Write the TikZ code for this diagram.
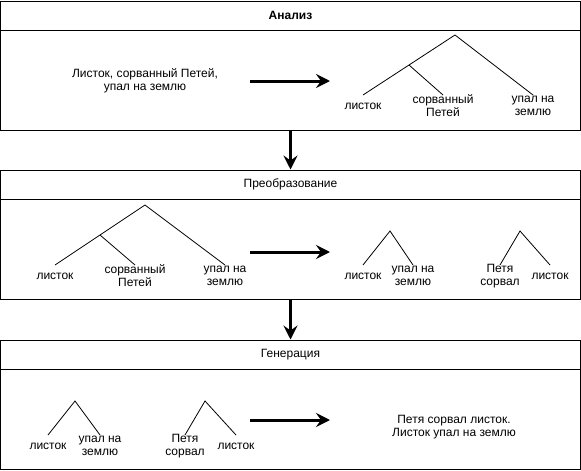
\documentclass[tikz,border=0pt]{standalone}
\usepackage{fontspec}
\setmainfont{Liberation Sans}
\usetikzlibrary{arrows.meta,calc}
\tikzset{
  stage/.style={draw, line width=1pt, minimum width=580pt, minimum height=129pt, inner sep=0pt},
  word/.style={align=center, font=\fontsize{12}{13}\selectfont, inner sep=0pt},
  bigarrow/.style={line width=3pt, -{Stealth[length=14pt,width=14pt,inset=5pt]}},
  branch/.style={line width=0.8pt},
}

\begin{document}
\begin{tikzpicture}[x=1pt,y=-1pt]
  \useasboundingbox (0,0) rectangle (581,471);
  % three stages
  \node[stage] (an) at (290.5,65.5) {};
  \node[stage] (pr) at (290.5,234.5) {};
  \node[stage] (ge) at (290.5,404.5) {};
  \foreach \S in {an,pr,ge} {
    \draw[line width=1pt] ([yshift=-30pt]\S.north west) -- ([yshift=-30pt]\S.north east);
  }
  \node[word, font=\fontsize{12}{13}\selectfont\bfseries] (anT) at ([yshift=-15pt]an.north) {Анализ};
  \node[word] (prT) at ([yshift=-15pt]pr.north) {Преобразование};
  \node[word] (geT) at ([yshift=-15pt]ge.north) {Генерация};
  \draw[bigarrow] (an) -- (pr);
  \draw[bigarrow] (pr) -- (ge);

  % analysis
  \node[word] (src) at (145,81) {Листок, сорванный Петей,\\упал на землю};
  \coordinate (a1) at (250,81);
  \coordinate (b1) at (330,81);
  \draw[bigarrow] (a1) -- (b1);
  \coordinate (t1) at (455,35);
  \node[word] (t1a) at (363,106) {листок};
  \node[word] (t1b) at (443,106) {сорванный\\Петей};
  \node[word] (t1c) at (533,106) {упал на\\землю};
  \draw[branch] ([yshift=11pt]t1a.center) -- (t1) -- ([yshift=11pt]t1c.center);
  \draw[branch] ($(t1)!0.5!([yshift=11pt]t1a.center)$) -- ([yshift=11pt]t1b.center);

  % transformation
  \coordinate (t2) at (145,205);
  \node[word] (t2a) at (55,276) {листок};
  \node[word] (t2b) at (135,276) {сорванный\\Петей};
  \node[word] (t2c) at (225,276) {упал на\\землю};
  \draw[branch] ([yshift=11pt]t2a.center) -- (t2) -- ([yshift=11pt]t2c.center);
  \draw[branch] ($(t2)!0.5!([yshift=11pt]t2a.center)$) -- ([yshift=11pt]t2b.center);
  \coordinate (a2) at (250,252);
  \coordinate (b2) at (330,252);
  \draw[bigarrow] (a2) -- (b2);
  \coordinate (t3) at (390,231);
  \node[word] (t3a) at (363,276) {листок};
  \node[word] (t3b) at (413,276) {упал на\\землю};
  \draw[branch] ([yshift=11pt]t3a.center) -- (t3) -- ([yshift=11pt]t3b.center);
  \coordinate (t4) at (520,231);
  \node[word] (t4a) at (500,276) {Петя\\сорвал};
  \node[word] (t4b) at (550,276) {листок};
  \draw[branch] ([yshift=11pt]t4a.center) -- (t4) -- ([yshift=11pt]t4b.center);

  % generation
  \coordinate (t5) at (75,401);
  \node[word] (t5a) at (48,446) {листок};
  \node[word] (t5b) at (100,446) {упал на\\землю};
  \draw[branch] ([yshift=11pt]t5a.center) -- (t5) -- ([yshift=11pt]t5b.center);
  \coordinate (t6) at (205,401);
  \node[word] (t6a) at (185,446) {Петя\\сорвал};
  \node[word] (t6b) at (236,446) {листок};
  \draw[branch] ([yshift=11pt]t6a.center) -- (t6) -- ([yshift=11pt]t6b.center);
  \coordinate (a3) at (250,420);
  \coordinate (b3) at (330,420);
  \draw[bigarrow] (a3) -- (b3);
  \node[word] (out) at (454,427) {Петя сорвал листок.\\Листок упал на землю};
\end{tikzpicture}
\end{document}
